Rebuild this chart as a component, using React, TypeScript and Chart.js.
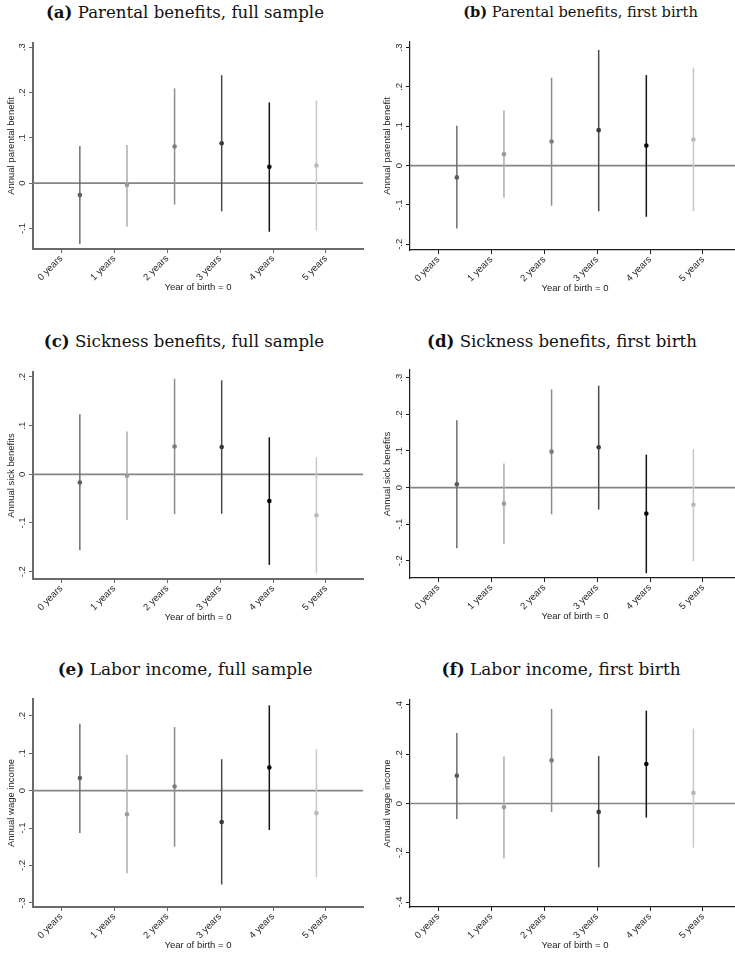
import React, { useEffect, useRef } from 'react';
import { Chart, registerables } from 'chart.js';

Chart.register(...registerables);

// Shared horizontal layout of every panel
const yearLabels = ['0 years', '1 years', '2 years', '3 years', '4 years', '5 years'];
const estimateX = [0.35, 1.24, 2.14, 3.03, 3.93, 4.82];
const xBounds = [-0.535, 5.7];

// (a) Parental benefits, full sample
const parentalFullEst = [-0.026, -0.004, 0.081, 0.088, 0.036, 0.039];
const parentalFullLo = [-0.134, -0.096, -0.047, -0.062, -0.107, -0.104];
const parentalFullHi = [0.082, 0.084, 0.209, 0.238, 0.178, 0.182];
const parentalFullTicks = [-0.1, 0, 0.1, 0.2, 0.3];
const parentalFullRange = [-0.145, 0.309];

// (b) Parental benefits, first birth
const parentalFirstEst = [-0.03, 0.029, 0.061, 0.09, 0.051, 0.066];
const parentalFirstLo = [-0.16, -0.082, -0.102, -0.116, -0.13, -0.116];
const parentalFirstHi = [0.101, 0.14, 0.223, 0.294, 0.23, 0.249];
const parentalFirstTicks = [-0.2, -0.1, 0, 0.1, 0.2, 0.3];
const parentalFirstRange = [-0.2145, 0.314];

// (c) Sickness benefits, full sample
const sickFullEst = [-0.017, -0.003, 0.057, 0.056, -0.055, -0.084];
const sickFullLo = [-0.156, -0.094, -0.082, -0.081, -0.186, -0.204];
const sickFullHi = [0.123, 0.088, 0.196, 0.193, 0.076, 0.035];
const sickFullTicks = [-0.2, -0.1, 0, 0.1, 0.2];
const sickFullRange = [-0.215, 0.21];

// (d) Sickness benefits, first birth
const sickFirstEst = [0.009, -0.044, 0.098, 0.11, -0.071, -0.047];
const sickFirstLo = [-0.166, -0.154, -0.073, -0.06, -0.234, -0.201];
const sickFirstHi = [0.184, 0.066, 0.268, 0.278, 0.09, 0.105];
const sickFirstTicks = [-0.2, -0.1, 0, 0.1, 0.2, 0.3];
const sickFirstRange = [-0.247, 0.321];

// (e) Labor income, full sample
const laborFullEst = [0.034, -0.063, 0.011, -0.084, 0.062, -0.06];
const laborFullLo = [-0.113, -0.221, -0.15, -0.251, -0.105, -0.231];
const laborFullHi = [0.179, 0.096, 0.17, 0.084, 0.228, 0.111];
const laborFullTicks = [-0.3, -0.2, -0.1, 0, 0.1, 0.2];
const laborFullRange = [-0.311, 0.245];

// (f) Labor income, first birth
const laborFirstEst = [0.113, -0.015, 0.175, -0.034, 0.16, 0.043];
const laborFirstLo = [-0.063, -0.222, -0.034, -0.259, -0.057, -0.179];
const laborFirstHi = [0.286, 0.191, 0.384, 0.193, 0.377, 0.304];
const laborFirstTicks = [-0.4, -0.2, 0, 0.2, 0.4];
const laborFirstRange = [-0.42, 0.42];

// Grey shade for each year's interval and marker
const barColors = ['#6e6e6e', '#acacac', '#8c8c8c', '#4a4a4a', '#141414', '#c8c8c8'];
const dotColors = ['#5c5c5c', '#9c9c9c', '#7c7c7c', '#383838', '#050505', '#b8b8b8'];

const AXIS_FONT = 'Liberation Sans, Arial, sans-serif';

type Side = 'left' | 'right';

interface PanelSpec {
  tag: string;
  title: string;
  yTitle: string;
  est: number[];
  lo: number[];
  hi: number[];
  yTicks: number[];
  yRange: number[];
  side: Side;
  plotTop: number;
  plotHeight: number;
  titleY: number;
  titleX: number;
  titleSize: number;
}

const panels: PanelSpec[] = [
  { tag: '(a)', title: 'Parental benefits, full sample', yTitle: 'Annual parental benefit', est: parentalFullEst, lo: parentalFullLo, hi: parentalFullHi, yTicks: parentalFullTicks, yRange: parentalFullRange, side: 'left', plotTop: 43, plotHeight: 206, titleY: 12, titleX: 185, titleSize: 16.6 },
  { tag: '(b)', title: 'Parental benefits, first birth', yTitle: 'Annual parental benefit', est: parentalFirstEst, lo: parentalFirstLo, hi: parentalFirstHi, yTicks: parentalFirstTicks, yRange: parentalFirstRange, side: 'right', plotTop: 42, plotHeight: 208, titleY: 12, titleX: 580.5, titleSize: 14.6 },
  { tag: '(c)', title: 'Sickness benefits, full sample', yTitle: 'Annual sick benefits', est: sickFullEst, lo: sickFullLo, hi: sickFullHi, yTicks: sickFullTicks, yRange: sickFullRange, side: 'left', plotTop: 372, plotHeight: 207, titleY: 341, titleX: 184, titleSize: 16.6 },
  { tag: '(d)', title: 'Sickness benefits, first birth', yTitle: 'Annual sick benefits', est: sickFirstEst, lo: sickFirstLo, hi: sickFirstHi, yTicks: sickFirstTicks, yRange: sickFirstRange, side: 'right', plotTop: 370, plotHeight: 208, titleY: 341, titleX: 562, titleSize: 16.6 },
  { tag: '(e)', title: 'Labor income, full sample', yTitle: 'Annual wage income', est: laborFullEst, lo: laborFullLo, hi: laborFullHi, yTicks: laborFullTicks, yRange: laborFullRange, side: 'left', plotTop: 699, plotHeight: 208, titleY: 669, titleX: 185, titleSize: 16.9 },
  { tag: '(f)', title: 'Labor income, first birth', yTitle: 'Annual wage income', est: laborFirstEst, lo: laborFirstLo, hi: laborFirstHi, yTicks: laborFirstTicks, yRange: laborFirstRange, side: 'right', plotTop: 700, plotHeight: 207, titleY: 669, titleX: 561, titleSize: 16.9 },
];

// Stata-style tick labels: ".2", "-.1", "0"
function stataNumber(v: number): string {
  if (Math.abs(v) < 1e-9) return '0';
  const body = Math.abs(v).toFixed(1).replace(/^0/, '');
  return (v < 0 ? '-' : '') + body;
}

const TOP_PAD = 8;
const X_AXIS_HEIGHT = 44;
const RIGHT_PAD = 4;

function Panel({ spec }: { spec: PanelSpec }) {
  const ref = useRef<HTMLCanvasElement | null>(null);
  const isLeft = spec.side === 'left';
  const canvasLeft = isLeft ? 0 : 367;
  const yAxisWidth = isLeft ? 33 : 43;
  const canvasWidth = yAxisWidth + 330 + RIGHT_PAD;
  const canvasHeight = TOP_PAD + spec.plotHeight + X_AXIS_HEIGHT;
  const axisColor = isLeft ? '#6a6a6a' : '#1c1c1c';
  const axisWidth = isLeft ? 2 : 1.2;

  useEffect(() => {
    const canvas = ref.current;
    if (!canvas) return;
    const tickFont = { family: AXIS_FONT, size: 9.5 };

    const datasets: any[] = [
      {
        data: [
          { x: xBounds[0], y: 0 },
          { x: xBounds[1], y: 0 },
        ],
        showLine: true,
        borderColor: '#858585',
        borderWidth: 1.7,
        pointRadius: 0,
        order: 10,
      },
    ];
    spec.est.forEach((_, i) => {
      datasets.push({
        data: [
          { x: estimateX[i], y: spec.lo[i] },
          { x: estimateX[i], y: spec.hi[i] },
        ],
        showLine: true,
        borderColor: barColors[i],
        borderWidth: 1.5,
        pointRadius: 0,
        order: 5,
      });
    });
    datasets.push({
      data: spec.est.map((v, i) => ({ x: estimateX[i], y: v })),
      showLine: false,
      pointRadius: 2.3,
      pointBorderWidth: 0,
      pointBackgroundColor: dotColors,
      order: 0,
    });

    const chart = new Chart(canvas, {
      type: 'scatter',
      data: { datasets },
      options: {
        animation: false,
        responsive: false,
        maintainAspectRatio: false,
        devicePixelRatio: 1,
        events: [],
        layout: { padding: { top: TOP_PAD, right: RIGHT_PAD, bottom: 0, left: 0 } },
        plugins: {
          legend: { display: false },
          tooltip: { enabled: false },
          title: { display: false },
        },
        scales: {
          x: {
            type: 'linear',
            min: xBounds[0],
            max: xBounds[1],
            afterBuildTicks: (s: any) => {
              s.ticks = yearLabels.map((_, i) => ({ value: i }));
            },
            afterFit: (s: any) => {
              s.height = X_AXIS_HEIGHT;
            },
            ticks: {
              autoSkip: false,
              minRotation: 45,
              maxRotation: 45,
              padding: 0,
              color: '#2a2a2a',
              font: tickFont,
              callback: (v: any) => yearLabels[Math.round(Number(v))] ?? '',
            },
            grid: {
              display: true,
              drawOnChartArea: false,
              drawTicks: true,
              tickLength: 4,
              tickColor: axisColor,
              tickWidth: 1,
            },
            border: { display: true, color: axisColor, width: axisWidth },
            title: {
              display: true,
              text: 'Year of birth = 0',
              color: '#222',
              font: tickFont,
              padding: 0,
            },
          },
          y: {
            type: 'linear',
            min: spec.yRange[0],
            max: spec.yRange[1],
            afterBuildTicks: (s: any) => {
              s.ticks = spec.yTicks.map((v) => ({ value: v }));
            },
            afterFit: (s: any) => {
              s.width = yAxisWidth;
            },
            ticks: {
              minRotation: 90,
              maxRotation: 90,
              crossAlign: 'center',
              padding: 1,
              color: '#2a2a2a',
              font: tickFont,
              callback: (v: any) => stataNumber(Number(v)),
            },
            grid: {
              display: true,
              drawOnChartArea: false,
              drawTicks: true,
              tickLength: 4,
              tickColor: axisColor,
              tickWidth: 1,
            },
            border: { display: true, color: axisColor, width: axisWidth },
            title: {
              display: true,
              text: spec.yTitle,
              color: '#222',
              font: tickFont,
              padding: { top: isLeft ? 5.3 : 15, bottom: 0 },
            },
          },
        },
      } as any,
    });
    return () => chart.destroy();
  }, [spec]);

  return (
    <>
      <div
        style={{
          position: 'absolute',
          left: spec.titleX - 200,
          width: 400,
          top: spec.titleY - 11,
          height: 22,
          lineHeight: '22px',
          textAlign: 'center',
          fontFamily: '"DejaVu Serif", serif',
          fontSize: spec.titleSize,
          color: '#111',
          whiteSpace: 'nowrap',
        }}
      >
        <b>{spec.tag}</b> {spec.title}
      </div>
      <canvas
        ref={ref}
        width={canvasWidth}
        height={canvasHeight}
        style={{
          position: 'absolute',
          left: canvasLeft,
          top: spec.plotTop - TOP_PAD,
          width: canvasWidth,
          height: canvasHeight,
        }}
      />
    </>
  );
}

export default function App() {
  return (
    <div
      style={{
        position: 'absolute',
        left: 0,
        top: 0,
        width: 735,
        height: 956,
        overflow: 'hidden',
        background: '#ffffff',
      }}
    >
      {panels.map((p) => (
        <Panel key={p.tag} spec={p} />
      ))}
    </div>
  );
}
